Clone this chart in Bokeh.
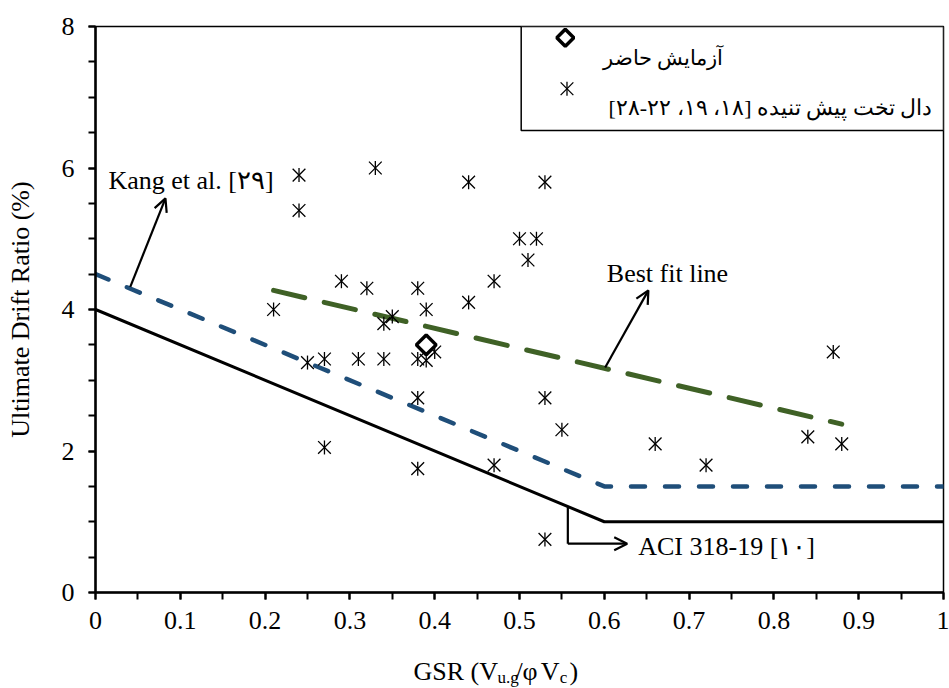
from bokeh.plotting import figure
from bokeh.layouts import column
from bokeh.models import FixedTicker, Arrow, OpenHead, Label, Range1d
from bokeh.embed import file_html
from bokeh.resources import INLINE
import math

# ---------------- data ----------------
aci_x = [0.0, 0.6, 1.0]
aci_y = [4.0, 1.0, 1.0]
kang_x = [0.0, 0.6, 1.0]
kang_y = [4.5, 1.5, 1.5]
fit_x = [0.21, 0.88]
fit_y = [4.27, 2.38]
test_x = [0.39]
test_y = [3.5]
slab_x = [0.24, 0.24, 0.33, 0.44, 0.53, 0.50, 0.52, 0.51, 0.29, 0.32, 0.38, 0.47,
          0.21, 0.39, 0.44, 0.35, 0.34, 0.25, 0.27, 0.31, 0.34, 0.38, 0.39, 0.40,
          0.38, 0.53, 0.55, 0.27, 0.38, 0.47, 0.53, 0.66, 0.72, 0.84, 0.88, 0.87]
slab_y = [5.9, 5.4, 6.0, 5.8, 5.8, 5.0, 5.0, 4.7, 4.4, 4.3, 4.3, 4.4,
          4.0, 4.0, 4.1, 3.9, 3.8, 3.25, 3.3, 3.3, 3.3, 3.3, 3.28, 3.4,
          2.75, 2.75, 2.3, 2.05, 1.75, 1.8, 0.75, 2.1, 1.8, 2.2, 2.1, 3.4]
x_ticks = [0, 0.1, 0.2, 0.3, 0.4, 0.5, 0.6, 0.7, 0.8, 0.9, 1.0]
x_tick_labels = ["0", "0.1", "0.2", "0.3", "0.4", "0.5", "0.6", "0.7", "0.8", "0.9", "1"]
x_minor = [i * 0.05 for i in range(21)]
y_ticks = [0, 2, 4, 6, 8]
y_minor = [i * 0.5 for i in range(17)]
legend_test = "آزمایش حاضر"
legend_slab = "دال تخت پیش تنیده [۱۸، ۱۹، ۲۲-۲۸]\u200f"
label_kang = "Kang et al. [۲۹]"
label_fit = "Best fit line"
label_aci = "ACI 318-19 [۱۰]"
y_title = "Ultimate Drift Ratio (%)"
x_title_parts = ["GSR (V", "u.g", "/", "φ", "V", "c", ")"]

FONT = "Liberation Serif"
FS = "26px"

p = figure(width=949, height=650, output_backend="svg", toolbar_location=None,
           x_range=Range1d(0, 1), y_range=Range1d(0, 8),
           min_border_left=95, min_border_right=6, min_border_top=26, min_border_bottom=58)
p.background_fill_color = "white"
p.border_fill_color = "white"
p.xgrid.visible = False
p.ygrid.visible = False
p.outline_line_color = "black"
p.outline_line_width = 1.5

for ax in (p.xaxis, p.yaxis):
    ax.axis_line_width = 2.5
    ax.axis_line_color = "black"
    ax.major_tick_in = 0
    ax.major_tick_out = 7
    ax.minor_tick_in = 0
    ax.minor_tick_out = 7
    ax.major_tick_line_width = 2
    ax.minor_tick_line_width = 2
    ax.major_tick_line_color = "black"
    ax.minor_tick_line_color = "black"
    ax.major_label_text_font = FONT
    ax.major_label_text_font_size = FS
    ax.major_label_text_color = "black"
    ax.axis_label_text_font = FONT
    ax.axis_label_text_font_size = FS
    ax.axis_label_text_font_style = "normal"
    ax.axis_label_text_color = "black"

p.xaxis.ticker = FixedTicker(ticks=x_ticks, minor_ticks=x_minor)
p.xaxis.major_label_overrides = {t: l for t, l in zip(x_ticks, x_tick_labels)}
p.xaxis.major_label_standoff = 12
p.yaxis.ticker = FixedTicker(ticks=y_ticks, minor_ticks=y_minor)
p.yaxis.major_label_standoff = 14
p.yaxis.axis_label = y_title
p.yaxis.axis_label_standoff = 24

# lines
p.line(aci_x, aci_y, line_color="black", line_width=3)
p.line(kang_x, kang_y, line_color="#1f4e79", line_width=4.5, line_dash="14 20", line_cap="round")
p.line(fit_x, fit_y, line_color="#3f6126", line_width=5, line_dash="32 20", line_cap="round")

# data points
p.scatter(slab_x, slab_y, marker="x", size=18, line_color="black", line_width=1.3)
p.scatter(slab_x, slab_y, marker="dash", angle=math.pi / 2, size=14, line_color="black", line_width=1.3)
p.scatter(test_x, test_y, marker="square", angle=math.pi / 4, size=14, line_color="black",
          fill_color="white", line_width=3.5)

# legend box
p.quad(left=[0.502], right=[1.0], bottom=[6.53], top=[8.0], fill_color="white",
       line_color="black", line_width=1.5)
p.scatter([0.554], [7.84], marker="square", angle=math.pi / 4, size=12, line_color="black",
          fill_color="white", line_width=3.5)
p.scatter([0.556], [7.12], marker="x", size=18, line_color="black", line_width=1.3)
p.scatter([0.556], [7.12], marker="dash", angle=math.pi / 2, size=14, line_color="black", line_width=1.3)
p.add_layout(Label(x=0.74, y=7.55, text=legend_test, text_align="right", text_baseline="middle",
                   text_font=FONT, text_font_size="21px", text_color="black"))
p.add_layout(Label(x=0.987, y=6.86, text=legend_slab, text_align="right", text_baseline="middle",
                   text_font=FONT, text_font_size="22px", text_color="black"))

# annotations
p.add_layout(Label(x=0.0153, y=5.82, text=label_kang, text_baseline="middle",
                   text_font=FONT, text_font_size=FS, text_color="black"))
p.add_layout(Label(x=0.603, y=4.51, text=label_fit, text_baseline="middle",
                   text_font=FONT, text_font_size=FS, text_color="black"))
p.add_layout(Label(x=0.640, y=0.65, text=label_aci, text_baseline="middle",
                   text_font=FONT, text_font_size=FS, text_color="black"))

p.add_layout(Arrow(x_start=0.041, y_start=4.32, x_end=0.0825, y_end=5.57, line_width=2.2,
                   line_color="black", end=OpenHead(size=13, line_width=2.2, line_color="black")))
p.add_layout(Arrow(x_start=0.601, y_start=3.18, x_end=0.652, y_end=4.27, line_width=2.2,
                   line_color="black", end=OpenHead(size=13, line_width=2.2, line_color="black")))
p.line([0.557, 0.557], [1.215, 0.69], line_color="black", line_width=2.2)
p.add_layout(Arrow(x_start=0.557, y_start=0.69, x_end=0.627, y_end=0.69, line_width=2.2,
                   line_color="black", end=OpenHead(size=13, line_width=2.2, line_color="black")))

# x axis title strip (with subscripts)
p2 = figure(width=949, height=38, output_backend="svg", toolbar_location=None,
            x_range=Range1d(0, 1), y_range=Range1d(0, 1), x_axis_type=None, y_axis_type=None,
            min_border_left=95, min_border_right=6, min_border_top=0, min_border_bottom=0)
p2.outline_line_color = None
p2.background_fill_color = "white"
p2.border_fill_color = "white"
part_x = [0.375, 0.474, 0.4953, 0.5035, 0.5250, 0.5475, 0.5590]
part_y = [0.45, 0.29, 0.45, 0.45, 0.45, 0.29, 0.45]
part_fs = ["26px", "17px", "26px", "26px", "26px", "17px", "26px"]
for t, xx, yy, fs in zip(x_title_parts, part_x, part_y, part_fs):
    p2.add_layout(Label(x=xx, y=yy, text=t, text_align="left", text_baseline="alphabetic",
                        text_font=FONT, text_font_size=fs, text_color="black"))

layout = column(p, p2, spacing=0)
open("out.html", "w").write(file_html(layout, INLINE))
